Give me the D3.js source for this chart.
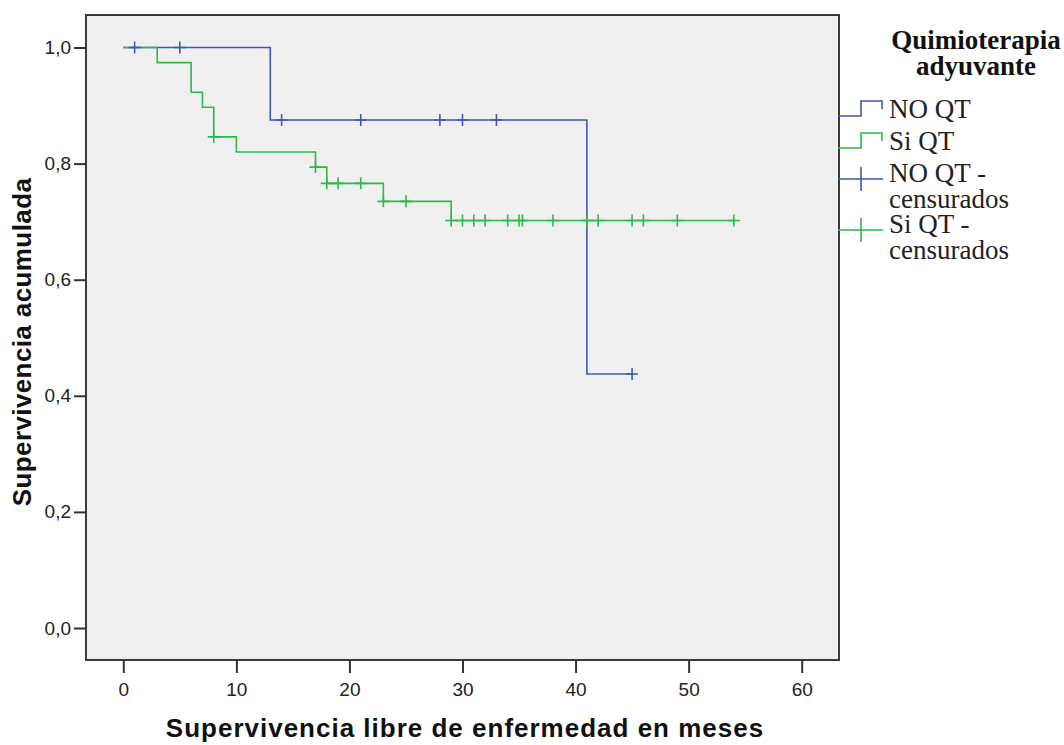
<!DOCTYPE html>
<html>
<head>
<meta charset="utf-8">
<script src="https://cdn.jsdelivr.net/npm/d3@7"></script>
<style>
body { margin: 0; background: #fff; }
svg { display: block; }
.axis text { font-family: "Liberation Sans", Arial, sans-serif; font-size: 19px; fill: #222; }
.axis line { stroke: #333; stroke-width: 2; }
.title { font-family: "Liberation Sans", Arial, sans-serif; font-weight: bold; font-size: 26px; fill: #111; }
.legend text { font-family: "Liberation Serif", "Times New Roman", serif; font-size: 27px; fill: #222; }
</style>
</head>
<body>
<svg id="graph" width="1064" height="745"></svg>
<script>
// curva NO QT
var noTimes = [0, 13, 41]
var noSurv = [1, 0.875, 0.4375]
var noEnd = 45
var noCens = [1, 5, 14, 21, 28, 30, 33, 45]

// curva Si QT
var siTimes = [0, 3, 6, 7, 8, 10, 17, 18, 23, 29]
var siSurv = [1, 0.974, 0.923, 0.897, 0.846, 0.820, 0.794, 0.766, 0.735, 0.702]
var siEnd = 54
var siCens = [8, 17, 18, 19, 21, 23, 25, 29, 30, 31, 32, 34, 35, 35.3, 38, 41, 42, 45, 46, 49, 54]

var xTicks = [0, 10, 20, 30, 40, 50, 60]
var yTicks = [0, 0.2, 0.4, 0.6, 0.8, 1.0]

var legendTitle = ["Quimioterapia", "adyuvante"]
var legendLabels = [["NO QT"], ["Si QT"], ["NO QT -", "censurados"], ["Si QT -", "censurados"]]

var blue = "#4257b2", green = "#2fb84a"

var frame = { left: 86, top: 15, right: 839, bottom: 660 }

var svg = d3.select("#graph")

var x = d3.scaleLinear().domain([0, 60]).range([123.3, 801.7])
var y = d3.scaleLinear().domain([0, 1]).range([628, 47.5])

svg.append("rect")
    .attr("x", frame.left).attr("y", frame.top)
    .attr("width", frame.right - frame.left).attr("height", frame.bottom - frame.top)
    .attr("fill", "#f0f0f0")
    .attr("stroke", "#3a3a3a")
    .attr("stroke-width", 2)

var fmt = d => d3.format(".1f")(d).replace(".", ",")

var yAxis = svg.append("g")
    .attr("class", "axis")
    .attr("transform", "translate(" + frame.left + ",0)")
    .call(d3.axisLeft(y).tickValues(yTicks).tickFormat(fmt).tickSize(12).tickPadding(3))
yAxis.select(".domain").remove()

var xAxis = svg.append("g")
    .attr("class", "axis")
    .attr("transform", "translate(0," + frame.bottom + ")")
    .call(d3.axisBottom(x).tickValues(xTicks).tickSize(13).tickPadding(10))
xAxis.select(".domain").remove()

function stepPoints(times, surv, end) {
    var pts = times.map((t, i) => [t, surv[i]])
    pts.push([end, surv[surv.length - 1]])
    return pts
}

function survAt(times, surv, t) {
    var i = d3.bisectRight(times, t) - 1
    return surv[Math.max(i, 0)]
}

var line = d3.line()
    .x(d => x(d[0]))
    .y(d => y(d[1]))
    .curve(d3.curveStepAfter)

var curves = [
    { times: noTimes, surv: noSurv, end: noEnd, cens: noCens, color: blue },
    { times: siTimes, surv: siSurv, end: siEnd, cens: siCens, color: green }
]

curves.forEach(c => {
    svg.append("path")
        .datum(stepPoints(c.times, c.surv, c.end))
        .attr("d", line)
        .attr("fill", "none")
        .attr("stroke", c.color)
        .attr("stroke-width", 1.6)
})

curves.forEach(c => {
    var g = svg.append("g")
        .attr("stroke", c.color)
        .attr("stroke-width", 1.6)
    g.selectAll(".cx")
        .data(c.cens)
        .enter().append("path")
        .attr("d", d => {
            var px = x(d), py = y(survAt(c.times, c.surv, d))
            return "M" + (px - 6) + "," + py + "H" + (px + 6) + "M" + px + "," + (py - 6) + "V" + (py + 6)
        })
})

// titulos de ejes
svg.append("text")
    .attr("class", "title")
    .attr("x", 465).attr("y", 737)
    .attr("text-anchor", "middle")
    .attr("letter-spacing", 1)
    .text("Supervivencia libre de enfermedad en meses")

svg.append("text")
    .attr("class", "title")
    .attr("transform", "translate(31,342) rotate(-90)")
    .attr("text-anchor", "middle")
    .attr("letter-spacing", 0.4)
    .text("Supervivencia acumulada")

// leyenda
var legend = svg.append("g").attr("class", "legend")

legend.selectAll(".lt")
    .data(legendTitle)
    .enter().append("text")
    .attr("x", 976)
    .attr("y", (d, i) => 49 + i * 26)
    .attr("text-anchor", "middle")
    .attr("font-weight", "bold")
    .style("fill", "#111")
    .text(d => d)

var rows = [118, 150, 182, 233]
var colors = [blue, green, blue, green]

legendLabels.forEach((lines, i) => {
    var t = legend.append("text")
        .attr("x", 889)
        .attr("y", rows[i])
    lines.forEach((s, j) => {
        t.append("tspan").attr("x", 889).attr("dy", j == 0 ? 0 : 26).text(s)
    })
    var cy = rows[i] - 8
    var d
    if (i < 2) d = "M838," + (cy + 6) + "H861V" + (cy - 9) + "H882V" + (cy - 1)
    else d = "M838," + (cy + 5) + "H883M861," + (cy - 7) + "V" + (cy + 17)
    legend.append("path")
        .attr("d", d)
        .attr("fill", "none")
        .attr("stroke", colors[i])
        .attr("stroke-width", 1.6)
})
</script>
</body>
</html>
